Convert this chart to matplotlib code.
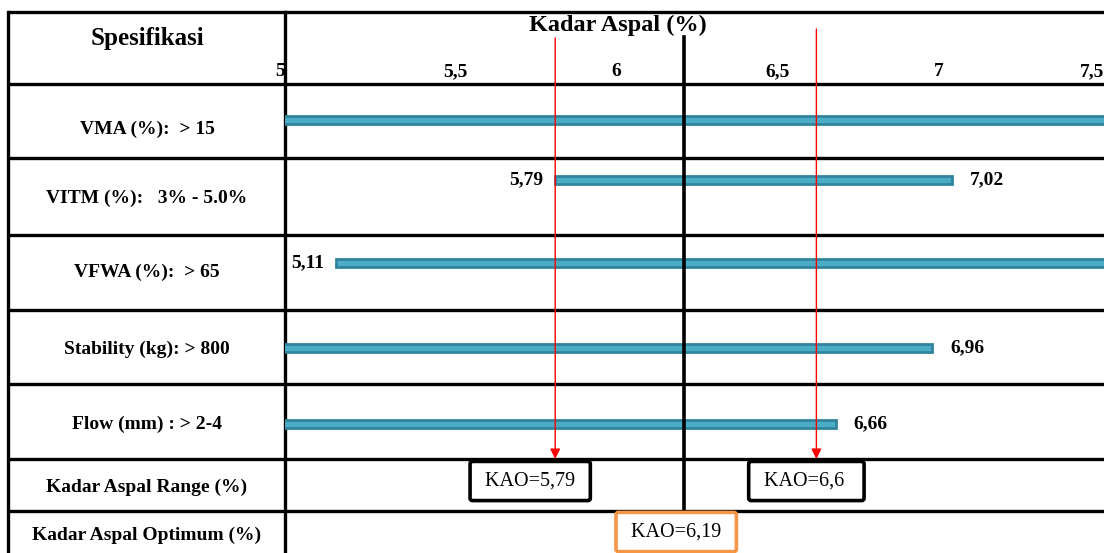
import matplotlib.pyplot as plt

# data
specs = ['VMA (%):  > 15', 'VITM (%):   3% - 5.0%', 'VFWA (%):  > 65',
         'Stability (kg): > 800', 'Flow (mm) : > 2-4']
low = [None, 5.79, 5.11, None, None]      # None = open end
high = [None, 7.02, None, 6.96, 6.66]
ticks = [5, 5.5, 6, 6.5, 7, 7.5]
tick_labels = ['5', '5,5', '6', '6,5', '7', '7,5']
kao_low = 5.79
kao_high = 6.6
kao_opt = 6.19

W, H = 1104, 553
xmin, xmax = 4.952, 7.492
serif = 'Liberation Serif'

fig = plt.figure(figsize=(W / 100, H / 100), dpi=100)

# table grid in pixel coordinates
g = fig.add_axes([0, 0, 1, 1])
g.set_xlim(0, W)
g.set_ylim(H, 0)
g.axis('off')

row_lines = [12, 84, 158, 235, 310, 384, 459, 511]
for yl in row_lines:
    g.plot([8, W], [yl, yl], color='black', lw=2.4, solid_capstyle='butt')
g.plot([8, 8], [12, H], color='black', lw=2.4)
g.plot([285, 285], [12, H], color='black', lw=2.4)

g.text(147, 38, 'Spesifikasi', ha='center', va='center', fontsize=18,
       fontweight='bold', family=serif)
label_y = [129, 198, 272, 349, 424, 487, 535]
left_labels = specs + ['Kadar Aspal Range (%)', 'Kadar Aspal Optimum (%)']
for lab, yy in zip(left_labels, label_y):
    g.text(147, yy, lab, ha='center', va='center', fontsize=14,
           fontweight='bold', family=serif)

# chart area, x in asphalt content
ax = fig.add_axes([285 / W, 0, (W - 285) / W, 1])
ax.set_xlim(xmin, xmax)
ax.set_ylim(H, 0)
ax.axis('off')
ax.patch.set_alpha(0)

ax.text(5.985, 25, 'Kadar Aspal (%)', ha='center', va='center',
        fontsize=17.5, fontweight='bold', family=serif)
for t, tl in zip(ticks, tick_labels):
    if t == ticks[0]:
        ax.text(xmin, 72, tl, ha='right', va='center', fontsize=14,
                fontweight='bold', family=serif, clip_on=False)
    elif t == ticks[-1]:
        ax.text(xmax, 72, tl, ha='right', va='center', fontsize=14,
                fontweight='bold', family=serif)
    else:
        ax.text(t - 0.02, 72, tl, ha='center', va='center', fontsize=14,
                fontweight='bold', family=serif)

bar_y = [120, 180, 263, 348, 424]
for lo, hi, yy in zip(low, high, bar_y):
    a = lo if lo is not None else xmin - 0.05
    b = hi if hi is not None else xmax + 0.05
    ax.barh(yy, b - a, left=a, height=8, color='#4BACC6',
            edgecolor='#31849B', linewidth=2, clip_on=True)
    if lo is not None:
        ax.annotate(f'{lo:.2f}'.replace('.', ','), (lo, yy), xytext=(-12, 0),
                    textcoords='offset pixels', ha='right', va='center',
                    fontsize=14, fontweight='bold', family=serif)
    if hi is not None:
        ax.annotate(f'{hi:.2f}'.replace('.', ','), (hi, yy), xytext=(18, 0),
                    textcoords='offset pixels', ha='left', va='center',
                    fontsize=14, fontweight='bold', family=serif)

# optimum line
ax.plot([kao_opt, kao_opt], [37, 511], color='black', lw=2.6)

# red arrows down to range boxes
for x0, ytop in [(kao_low, 38), (kao_high, 29)]:
    ax.annotate('', xy=(x0, 459), xytext=(x0, ytop),
                arrowprops=dict(arrowstyle='-|>', color='red', lw=1,
                                mutation_scale=15, shrinkA=0, shrinkB=0))

box_black = dict(boxstyle='round,pad=0.5,rounding_size=0.12', fc='white',
                 ec='black', lw=2.6)
box_orange = dict(boxstyle='round,pad=0.5,rounding_size=0.12', fc='white',
                  ec='#F79646', lw=2.6)
ax.annotate(' KAO=' + f'{kao_low:.2f}'.replace('.', ',') + ' ', (kao_low, 481),
            xytext=(-25, 0), textcoords='offset pixels', ha='center',
            va='center', fontsize=14.5, family=serif, bbox=box_black)
ax.annotate(' KAO=' + f'{kao_high:.1f}'.replace('.', ',') + '  ', (kao_high, 481),
            xytext=(-10, 0), textcoords='offset pixels', ha='center',
            va='center', fontsize=14.5, family=serif, bbox=box_black)
ax.annotate(' KAO=' + f'{kao_opt:.2f}'.replace('.', ',') + ' ', (kao_opt, 532),
            xytext=(-8, 0), textcoords='offset pixels', ha='center',
            va='center', fontsize=14.5, family=serif, bbox=box_orange)

fig.savefig('out.png', dpi=100)
